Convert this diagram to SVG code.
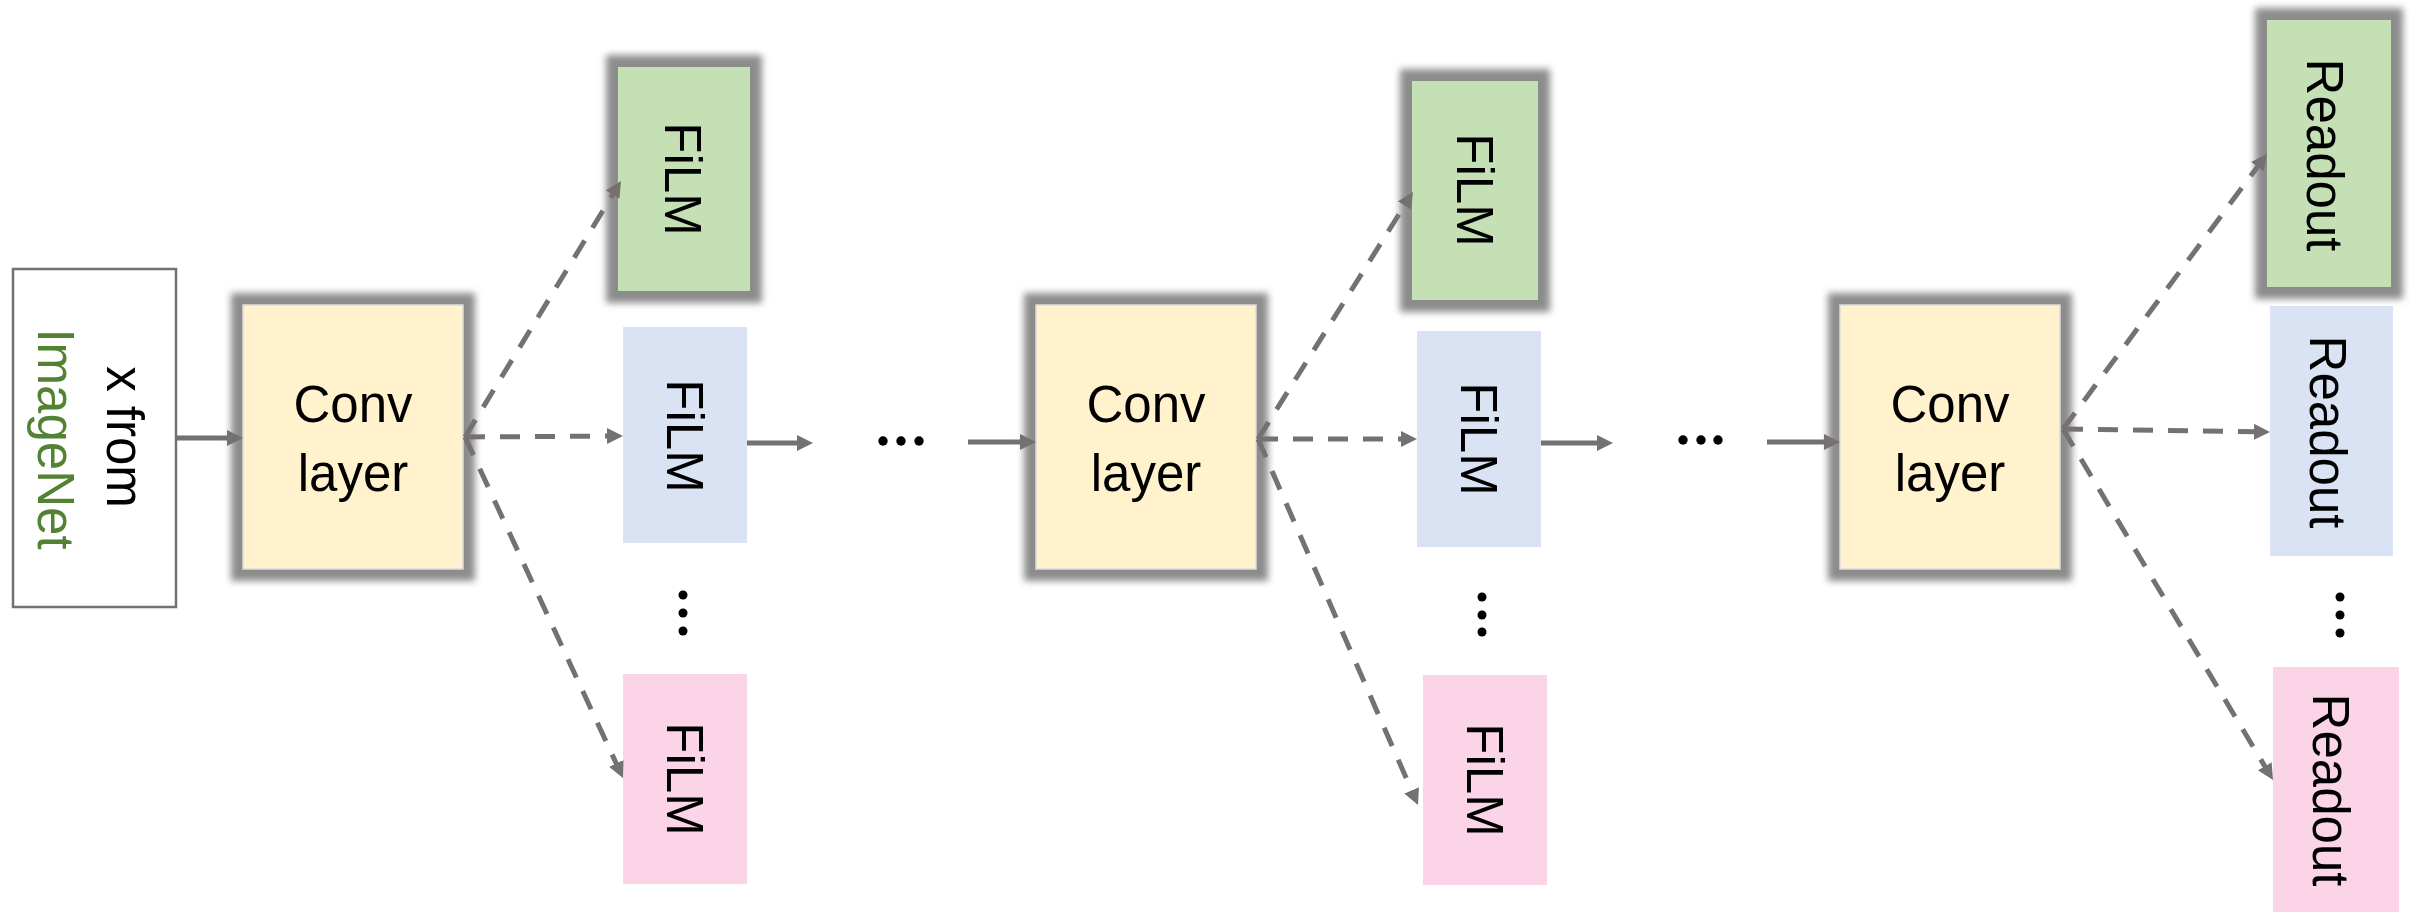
<svg xmlns="http://www.w3.org/2000/svg" width="2410" height="912" viewBox="0 0 2410 912">
  <style>
    .lbl { font-family: "Liberation Sans", Arial, sans-serif; font-size: 51px; fill: #000; }
    .vlbl { font-family: "Liberation Sans", Arial, sans-serif; font-size: 51px; fill: #000; text-anchor: middle; }
    .conv { fill: #FFF2CC; stroke: #dcdcdc; stroke-width: 1.5; }
    .glow { fill: none; stroke: #8c8c8c; stroke-width: 24; filter: url(#soft); }
    .green { fill: #C5E0B4; }
    .blue { fill: #DAE3F3; }
    .pink { fill: #FBD5E7; }
    .solid { stroke: #737070; stroke-width: 5; fill: none; marker-end: url(#head); }
    .dash { stroke: #767171; stroke-width: 5; fill: none; stroke-dasharray: 20 15; marker-end: url(#head); }
    .dot { fill: #000; }
  </style>
  <defs>
    <filter id="soft" x="-25%" y="-25%" width="150%" height="150%">
      <feGaussianBlur stdDeviation="3.5"/>
    </filter>
    <marker id="head" markerUnits="userSpaceOnUse" markerWidth="17" markerHeight="17" refX="8" refY="8" orient="auto">
      <path d="M0,0 L16,8 L0,16 z" fill="#767171"/>
    </marker>
  </defs>

  <rect width="2410" height="912" fill="#fff"/>

  <!-- input image -->
  <g id="input">
    <rect x="13" y="269" width="163" height="338" fill="#fff" stroke="#767171" stroke-width="2.5"/>
    <text class="vlbl" font-size="53" transform="translate(107,437) rotate(90)">x from</text>
    <text class="vlbl" font-size="53" style="fill:#548235" transform="translate(38,439) rotate(90)">ImageNet</text>
  </g>

  <!-- convolution layers -->
  <g id="conv1">
    <rect class="glow" x="243" y="305" width="220" height="264"/>
    <rect class="conv" x="243" y="305" width="220" height="264"/>
    <text class="lbl" x="353" y="422" text-anchor="middle">Conv</text>
    <text class="lbl" x="353" y="491" text-anchor="middle">layer</text>
  </g>
  <g id="conv2">
    <rect class="glow" x="1036" y="305" width="220" height="264"/>
    <rect class="conv" x="1036" y="305" width="220" height="264"/>
    <text class="lbl" x="1146" y="422" text-anchor="middle">Conv</text>
    <text class="lbl" x="1146" y="491" text-anchor="middle">layer</text>
  </g>
  <g id="conv3">
    <rect class="glow" x="1840" y="305" width="220" height="264"/>
    <rect class="conv" x="1840" y="305" width="220" height="264"/>
    <text class="lbl" x="1950" y="422" text-anchor="middle">Conv</text>
    <text class="lbl" x="1950" y="491" text-anchor="middle">layer</text>
  </g>

  <!-- FiLM column after the first conv layer -->
  <g id="film1-green">
    <rect class="glow" x="618" y="67" width="132" height="224"/>
    <rect class="green" x="618" y="67" width="132" height="224"/>
    <text class="vlbl" font-size="49" transform="translate(665,179) rotate(90)">FiLM</text>
  </g>
  <g id="film1-blue">
    <rect class="blue" x="623" y="327" width="124" height="216"/>
    <text class="vlbl" font-size="49" transform="translate(667,436) rotate(90)">FiLM</text>
  </g>
  <g id="film1-dots">
    <circle class="dot" cx="683" cy="595" r="4.5"/>
    <circle class="dot" cx="683" cy="613" r="4.5"/>
    <circle class="dot" cx="683" cy="631" r="4.5"/>
  </g>
  <g id="film1-pink">
    <rect class="pink" x="623" y="674" width="124" height="210"/>
    <text class="vlbl" font-size="49" transform="translate(667,779) rotate(90)">FiLM</text>
  </g>

  <!-- FiLM column after the second conv layer -->
  <g id="film2-green">
    <rect class="glow" x="1412" y="81" width="126" height="219"/>
    <rect class="green" x="1412" y="81" width="126" height="219"/>
    <text class="vlbl" font-size="49" transform="translate(1457,190) rotate(90)">FiLM</text>
  </g>
  <g id="film2-blue">
    <rect class="blue" x="1417" y="331" width="124" height="216"/>
    <text class="vlbl" font-size="49" transform="translate(1461,439) rotate(90)">FiLM</text>
  </g>
  <g id="film2-dots">
    <circle class="dot" cx="1482" cy="597" r="4.5"/>
    <circle class="dot" cx="1482" cy="615" r="4.5"/>
    <circle class="dot" cx="1482" cy="632" r="4.5"/>
  </g>
  <g id="film2-pink">
    <rect class="pink" x="1423" y="675" width="124" height="210"/>
    <text class="vlbl" font-size="49" transform="translate(1467,780) rotate(90)">FiLM</text>
  </g>

  <!-- readout heads -->
  <g id="readout-green">
    <rect class="glow" x="2267" y="20" width="124" height="267"/>
    <rect class="green" x="2267" y="20" width="124" height="267"/>
    <text class="vlbl" transform="translate(2307,155) rotate(90)">Readout</text>
  </g>
  <g id="readout-blue">
    <rect class="blue" x="2270" y="306" width="123" height="250"/>
    <text class="vlbl" transform="translate(2310,432) rotate(90)">Readout</text>
  </g>
  <g id="readout-dots">
    <circle class="dot" cx="2340" cy="597" r="4.5"/>
    <circle class="dot" cx="2340" cy="615" r="4.5"/>
    <circle class="dot" cx="2340" cy="633" r="4.5"/>
  </g>
  <g id="readout-pink">
    <rect class="pink" x="2273" y="667" width="126" height="245"/>
    <text class="vlbl" transform="translate(2313,790) rotate(90)">Readout</text>
  </g>

  <!-- elided layers -->
  <g id="gap1">
    <circle class="dot" cx="883" cy="441" r="4.7"/>
    <circle class="dot" cx="901" cy="441" r="4.7"/>
    <circle class="dot" cx="919" cy="441" r="4.7"/>
  </g>
  <g id="gap2">
    <circle class="dot" cx="1683" cy="440" r="4.7"/>
    <circle class="dot" cx="1701" cy="440" r="4.7"/>
    <circle class="dot" cx="1718" cy="440" r="4.7"/>
  </g>

  <!-- connectors -->
  <g id="connectors">
    <line class="solid" x1="176" y1="438" x2="235" y2="438"/>
    <line class="solid" x1="747" y1="443" x2="805" y2="443"/>
    <line class="solid" x1="968" y1="442" x2="1028" y2="442"/>
    <line class="solid" x1="1541" y1="443" x2="1605" y2="443"/>
    <line class="solid" x1="1767" y1="442" x2="1832" y2="442"/>

    <line class="dash" x1="465" y1="437" x2="616.8" y2="187.8"/>
    <line class="dash" x1="465" y1="437" x2="615" y2="436"/>
    <line class="dash" x1="465" y1="437" x2="619.6" y2="770.7"/>

    <line class="dash" x1="1258" y1="439" x2="1408.7" y2="198.8"/>
    <line class="dash" x1="1258" y1="439" x2="1409" y2="439"/>
    <line class="dash" x1="1258" y1="439" x2="1414.8" y2="797.7"/>

    <line class="dash" x1="2063" y1="429" x2="2262.2" y2="160.4"/>
    <line class="dash" x1="2063" y1="429" x2="2262" y2="431.9"/>
    <line class="dash" x1="2063" y1="429" x2="2268.9" y2="773.1"/>
  </g>
</svg>
